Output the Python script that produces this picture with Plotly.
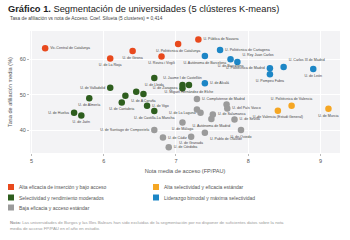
import plotly.graph_objects as go

# ---- data ----
cluster_names = [
    "Alta eficacia de inserción y bajo acceso",
    "Alta selectividad y eficacia estándar",
    "Selectividad y rendimiento moderados",
    "Liderazgo bimodal y máxima selectividad",
    "Baja eficacia y acceso estándar",
]
cluster_colors = ["#E8491D", "#F5A623", "#2E5E1E", "#1C86C6", "#9B9B9B"]

red_names = ["Vic-Central de Catalunya", "U. de La Rioja", "U. de Girona",
             "U. Politécnica de Catalunya", "U. Rovira i Virgili", "U. Pública de Navarra"]
red_x = [5.19, 6.09, 6.40, 7.03, 6.80, 7.31]
red_y = [63.1, 60.2, 62.35, 64.3, 60.8, 65.6]
red_pos = ["middle right", "bottom center", "bottom center", "bottom center", "bottom center", "middle right"]

orange_names = ["U. Politécnica de Valencia", "U. de Valencia (Estudi General)", "U. de Murcia"]
orange_x = [8.60, 8.41, 9.11]
orange_y = [46.85, 45.45, 46.0]
orange_pos = ["top center", "bottom center", "bottom center"]

green_names = ["U. de Valladolid", "U. de Almería", "U. de Huelva", "U. de Jaén", "U. de Lleida",
               "U. Jaume I de Castellón", "U. Miguel Hernández de Elche", "U. de Zaragoza",
               "U. de A Coruña", "U. de Cantabria", "U. de Vigo", "U. de Castilla-La Mancha", "", ""]
green_x = [6.09, 5.80, 5.59, 5.69, 6.70, 7.09, 7.18, 7.09, 6.55, 6.25, 6.60, 6.70, 6.30, 6.45]
green_y = [51.95, 48.95, 44.9, 44.1, 54.7, 52.7, 52.7, 51.8, 50.2, 47.8, 46.85, 45.35, 49.7, 50.8]
green_pos = ["middle left", "bottom center", "middle left", "bottom center", "bottom center",
             "top center", "bottom center", "middle left", "bottom center", "bottom center",
             "middle right", "bottom center", "bottom center", "bottom center"]

blue_names = ["U. Politécnica de Cartagena", "U. Autónoma de Barcelona", "U. de Barcelona",
              "U. Rey Juan Carlos", "U. Politécnica de Madrid", "U. Pompeu Fabra",
              "U. Carlos III de Madrid", "U. de León", "U. de Alcalá"]
blue_x = [7.61, 7.40, 7.755, 7.85, 8.30, 8.30, 8.49, 8.90, 7.40]
blue_y = [62.6, 60.9, 60.0, 59.2, 57.45, 55.8, 57.8, 57.25, 53.2]
blue_pos = ["middle right", "bottom center", "bottom center", "top right", "middle left",
            "bottom center", "top right", "bottom center", "middle right"]

gray_names = ["U. Complutense de Madrid", "U. del País Vasco", "", "U. de La Laguna", "",
              "U. de Salamanca", "U. de Sevilla", "U. Autónoma de Madrid", "U. de Málaga",
              "U. de Oviedo", "U. Pablo de Olavide", "U. de Cádiz", "U. de Granada",
              "U. de Córdoba", "U. de Santiago de Compostela"]
gray_x = [7.29, 7.71, 7.70, 7.34, 7.29, 7.51, 7.81, 7.49, 7.09, 7.90, 7.40, 6.82, 7.21, 6.90, 6.70]
gray_y = [48.75, 46.1, 47.2, 44.9, 45.8, 44.4, 43.0, 43.1, 42.15, 40.0, 39.25, 37.85, 38.1, 35.1, 40.0]
gray_pos = ["middle right", "middle right", "bottom center", "middle left", "bottom center",
            "middle right", "middle right", "bottom center", "bottom center", "bottom center",
            "bottom right", "middle right", "bottom center", "middle right", "middle left"]

x_ticks = [5, 6, 7, 8, 9]
y_ticks = [40, 50, 60]

FONT = "Arial, Liberation Sans, sans-serif"

series = [
    (red_names, red_x, red_y, red_pos, 0),
    (orange_names, orange_x, orange_y, orange_pos, 1),
    (green_names, green_x, green_y, green_pos, 2),
    (blue_names, blue_x, blue_y, blue_pos, 3),
    (gray_names, gray_x, gray_y, gray_pos, 4),
]

fig = go.Figure()
for names, xs, ys, pos, ci in series:
    fig.add_trace(go.Scatter(
        x=xs, y=ys, mode="markers+text", text=names, textposition=pos,
        textfont=dict(size=3.6, color="#444", family=FONT),
        marker=dict(size=6.5, color=cluster_colors[ci]),
        name=cluster_names[ci], showlegend=False, cliponaxis=False,
    ))

# plot area in pixels
L, R, T, B = 30, 340, 31, 153
W, H = 350, 240
pw, ph = R - L, B - T


def px(xp):
    return (xp - L) / pw


def py(yp):
    return (B - yp) / ph


shapes = []
annotations = []
# custom legend (two columns)
leg_pos = [(8, 187), (153, 187), (8, 197.5), (153, 197.5), (8, 207.5)]
for (lx, ly), nm, col in zip(leg_pos, cluster_names, cluster_colors):
    shapes.append(dict(type="rect", xref="paper", yref="paper",
                       x0=px(lx), x1=px(lx + 6), y0=py(ly - 3), y1=py(ly + 3),
                       fillcolor=col, line=dict(width=0)))
    annotations.append(dict(xref="paper", yref="paper", x=px(lx + 9), y=py(ly),
                            xanchor="left", yanchor="middle", showarrow=False,
                            text=nm, font=dict(size=5, color="#555", family=FONT)))

annotations.append(dict(xref="paper", yref="paper", x=px(8), y=py(19),
                        xanchor="left", yanchor="middle", showarrow=False,
                        text="Tasa de afiliación vs nota de Acceso. Coef. Silueta (5 clusteres) = 0,414",
                        font=dict(size=4.8, color="#444", family=FONT)))
annotations.append(dict(xref="paper", yref="paper", x=px(8), y=py(225.5),
                        xanchor="left", yanchor="middle", showarrow=False, align="left",
                        text="<b>Nota:</b> Las universidades de Burgos y las Illes Balears han sido excluidas de la segmentación por no disponer de suficientes datos sobre la nota<br>media de acceso FP/PAU en el año en estudio.",
                        font=dict(size=4.3, color="#999", family=FONT)))

fig.update_layout(
    width=W, height=H,
    margin=dict(l=L, r=W - R, t=T, b=H - B),
    paper_bgcolor="white", plot_bgcolor="#F3F3F5",
    font=dict(family=FONT, color="#555"),
    title=dict(text="<b>Gráfico 1.</b> Segmentación de universidades (5 clústeres K-means)",
               x=8 / W, xanchor="left", xref="container",
               y=1 - 9 / H, yanchor="middle", yref="container",
               font=dict(size=9.3, color="#222", family=FONT)),
    xaxis=dict(range=[4.98, 9.27], tickvals=x_ticks, ticks="outside", ticklen=2,
               tickcolor="#BBB", tickfont=dict(size=5.5, color="#555"),
               gridcolor="white", gridwidth=1, zeroline=False, showline=False,
               title=dict(text="Nota media de acceso (FP/PAU)", font=dict(size=5.6, color="#555"),
                          standoff=6)),
    yaxis=dict(range=[33.5, 68.0], tickvals=y_ticks, ticks="outside", ticklen=2,
               tickcolor="#BBB", tickfont=dict(size=5.5, color="#555"),
               gridcolor="white", gridwidth=1, zeroline=False, showline=False,
               title=dict(text="Tasa de afiliación media (%)", font=dict(size=5.6, color="#555"),
                          standoff=6)),
    shapes=shapes, annotations=annotations, showlegend=False,
)

fig.write_html("out.html")
